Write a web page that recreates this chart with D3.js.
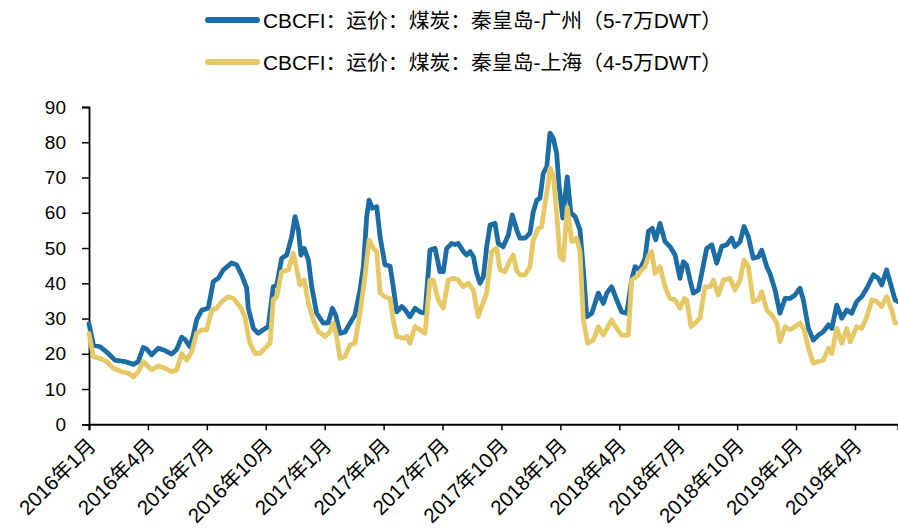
<!DOCTYPE html>
<html>
<head>
<meta charset="utf-8">
<script src="https://cdn.jsdelivr.net/npm/d3@7"></script>
<style>
  body { margin: 0; background: #fff; }
  svg { display: block; }
  text { font-family: "Liberation Sans", Arial, "Noto Sans CJK SC", sans-serif; fill: #000; }
</style>
</head>
<body>
<svg id="chart" width="898" height="532"></svg>
<script>
const seriesNames = [
  "CBCFI：运价：煤炭：秦皇岛-广州（5-7万DWT）",
  "CBCFI：运价：煤炭：秦皇岛-上海（4-5万DWT）"
];
const seriesColors = ["#1c6ca5", "#e6c966"];

// x = months since Jan 2016
const tickMonths = [0, 3, 6, 9, 12, 15, 18, 21, 24, 27, 30, 33, 36, 39];
const tickLabels = ["2016年1月", "2016年4月", "2016年7月", "2016年10月",
  "2017年1月", "2017年4月", "2017年7月", "2017年10月",
  "2018年1月", "2018年4月", "2018年7月", "2018年10月",
  "2019年1月", "2019年4月"];
const yTicks = [0, 10, 20, 30, 40, 50, 60, 70, 80, 90];

// 秦皇岛-广州
const gzMonths = [0,0.22,0.56,0.98,1.32,1.83,2.26,2.51,2.76,2.94,
  3.19,3.53,3.87,4.21,4.47,4.72,4.89,5.14,5.31,5.48,
  5.74,6.07,6.33,6.58,6.84,7.27,7.52,7.77,8.03,8.11,
  8.37,8.62,8.87,9.13,9.38,9.56,9.81,10.07,10.32,10.49,
  10.66,10.79,10.96,11.17,11.34,11.59,11.93,12.18,12.39,12.56,
  12.78,13.03,13.29,13.54,13.80,13.97,14.14,14.26,14.42,14.65,
  14.82,15.07,15.33,15.49,15.67,15.92,16.09,16.34,16.60,16.85,
  17.11,17.36,17.62,17.87,18.04,18.21,18.47,18.64,18.80,19.06,
  19.23,19.40,19.57,19.74,19.91,20.08,20.25,20.42,20.67,20.84,
  21.09,21.35,21.55,21.78,21.94,22.20,22.45,22.62,22.80,22.96,
  23.13,23.31,23.47,23.64,23.81,23.93,24.12,24.35,24.53,24.75,
  25.00,25.17,25.34,25.60,25.93,26.19,26.36,26.61,26.87,27.12,
  27.38,27.63,27.80,28.05,28.31,28.48,28.68,28.85,29.07,29.33,
  29.58,29.84,30.09,30.26,30.43,30.60,30.77,31.03,31.28,31.45,
  31.71,31.96,32.21,32.47,32.72,32.89,33.15,33.35,33.57,33.82,
  34.08,34.25,34.51,34.67,34.93,35.18,35.44,35.69,35.95,36.20,
  36.37,36.63,36.88,37.14,37.39,37.65,37.82,38.07,38.33,38.58,
  38.83,39.09,39.34,39.60,39.94,40.19,40.36,40.61,40.78,41.04,
  41.19];
const gzValues = [28.5,22.5,22,20.1,18.2,17.8,17,17.8,21.8,21.3,
  19.7,21.6,20.9,19.9,21.3,24.7,24,22,25.3,29.6,
  32.4,32.9,40.5,41.4,43.8,45.8,45.2,42.4,38.6,33,
  27.2,25.8,26.8,27.7,39,39.5,47.1,48,53.2,58.9,
  55.1,48,49.9,46.6,39,31.5,28.7,28.8,32.9,31,
  25.8,26.2,28.7,31,38.1,44.7,58.9,63.6,61.3,61.7,
  53.2,45.2,44.9,39,31.9,33.4,32.5,30.5,32.9,31.9,
  31.5,49.4,49.9,43.3,43.3,49.9,51.3,51,51.3,49,
  48,49,47.5,42.8,40,41.9,50.4,56.5,57,51.3,
  50.4,53.7,59.4,55.1,52.8,52.8,54.2,60.3,63.6,64.1,
  71.2,73.1,82.6,81.1,76.9,68,58.5,70.2,60,58.9,
  55.1,43.8,30.5,31.5,37.2,34.3,37.2,39,35.3,31.9,
  31.5,40.9,44.7,43.8,47.1,54.7,55.6,52.3,57,51.8,
  50.4,48,41.4,46.1,45.2,40.9,37.2,38.1,45.2,49.9,
  50.9,45.7,50.4,50.9,52.8,50.4,51.8,56.1,53.2,47.1,
  47.5,49.4,44.7,42.8,38.1,31.5,35.7,35.7,36.7,38.6,
  35.3,27.2,23.9,25.3,26.3,28.2,27.2,33.8,30.1,32.4,
  31.5,34.8,36.2,38.6,42.4,41.4,39.5,43.8,40.5,35.3,
  34.8];

// 秦皇岛-上海
const shMonths = [0,0.22,0.56,0.90,1.24,1.66,2.00,2.26,2.51,2.76,
  2.94,3.19,3.53,3.87,4.21,4.47,4.72,4.97,5.23,5.48,
  5.74,5.99,6.25,6.50,6.76,7.09,7.35,7.69,7.94,8.11,
  8.20,8.45,8.71,8.96,9.22,9.38,9.56,9.81,10.15,10.40,
  10.57,10.74,10.96,11.17,11.42,11.68,12.02,12.27,12.44,12.61,
  12.78,13.03,13.29,13.54,13.80,14.05,14.26,14.48,14.65,14.82,
  15.07,15.33,15.49,15.67,16.00,16.18,16.34,16.60,16.85,17.11,
  17.36,17.53,17.78,18.04,18.29,18.55,18.80,19.06,19.31,19.57,
  19.82,19.99,20.25,20.50,20.76,20.93,21.18,21.44,21.60,21.78,
  21.94,22.20,22.45,22.62,22.88,23.05,23.22,23.36,23.47,23.64,
  23.81,23.98,24.15,24.35,24.58,24.83,25.00,25.17,25.39,25.68,
  25.93,26.19,26.61,26.87,27.12,27.46,27.63,27.89,28.14,28.31,
  28.51,28.65,28.82,29.07,29.33,29.58,29.84,30.09,30.31,30.43,
  30.65,30.94,31.11,31.36,31.62,31.79,32.04,32.30,32.64,32.89,
  33.15,33.35,33.57,33.82,34.08,34.25,34.51,34.76,35.02,35.18,
  35.44,35.69,35.95,36.20,36.41,36.63,36.88,37.14,37.39,37.65,
  37.82,38.07,38.33,38.58,38.76,39.09,39.34,39.60,39.86,40.11,
  40.36,40.61,40.87,41.04,41.19];
const shValues = [25.8,19.2,18.7,17.8,15.9,14.9,14.5,13.5,14.9,17.8,
  16.8,15.4,16.6,15.9,14.9,15.4,20.1,18.2,20.6,25.8,
  26.8,26.8,32.4,32.9,34.8,36.2,35.7,33.4,30.5,25,
  23,20.1,20.1,21.6,23,35.3,36.2,43.3,43.8,48.5,
  44.3,39.5,40.9,34.3,29.6,26.3,24.9,26.3,28.7,24.9,
  18.7,19.2,22.5,23,31.5,41.9,52.3,49.9,49,37.2,
  36.2,35.7,29.6,24.9,24.4,24.9,23,27.7,26.8,25.8,
  40.9,40.9,35.3,32.9,40.9,41.4,40.9,39,40,38.1,
  30.5,33.4,37.2,49,49.9,43.8,43.3,46.6,48,43.5,
  42.4,42.4,44.7,52.3,55.6,56.1,62.7,67.4,72.6,70.7,
  59.9,47.5,46.6,61.5,51.8,52.8,49,29.6,23,23.9,
  27.7,25.3,29.6,27.2,25.3,25.3,40.9,41.9,43.8,44.7,
  48,49,42.8,44.7,39,35.7,35.3,32.9,35.7,35.3,
  27.7,29.1,30.1,39,39,40.9,36.7,40.9,41.4,38.1,
  40.9,46.6,44.7,34.8,35.3,37.6,32.4,31,28.7,23.4,
  27.7,26.8,27.7,28.7,26.8,21.6,17.3,17.8,18.2,21.6,
  20.1,27.2,23,27.2,23.4,27.7,27.2,30.5,35.3,34.8,
  33.4,36.2,32.4,28.7,28.7];

const svg = d3.select("#chart");

const x = d3.scaleLinear()
  .domain([0, d3.max(gzMonths)])
  .range([89, 898]);
const y = d3.scaleLinear()
  .domain([0, 90])
  .range([424.3, 107]);

// y axis
const yAxis = svg.append("g")
  .attr("transform", "translate(89,0)")
  .call(d3.axisLeft(y).tickValues(yTicks).tickSize(7).tickPadding(16));
yAxis.select(".domain").attr("stroke", "#000").attr("stroke-width", 1.8);
yAxis.selectAll(".tick line").attr("stroke", "#000").attr("stroke-width", 1.5);
yAxis.selectAll(".tick text")
  .style("font-size", "19px");

// x axis
const xAxis = svg.append("g")
  .attr("transform", "translate(0,424.3)")
  .call(d3.axisBottom(x).tickValues(tickMonths).tickSize(6).tickFormat(""));
xAxis.select(".domain").attr("stroke", "#000").attr("stroke-width", 2);
xAxis.selectAll(".tick line").attr("stroke", "#000").attr("stroke-width", 1.5);

svg.append("g").selectAll("text")
  .data(tickMonths)
  .enter()
  .append("text")
  .attr("transform", d => `translate(${x(d) + 8},447) rotate(-45)`)
  .attr("text-anchor", "end")
  .style("font-size", "20.5px")
  .text((d, i) => tickLabels[i]);

// lines
const series = [
  { months: gzMonths, values: gzValues },
  { months: shMonths, values: shValues }
];
const line = d3.line()
  .x(d => x(d[0]))
  .y(d => y(d[1]));

series.forEach((s, i) => {
  svg.append("path")
    .datum(d3.zip(s.months, s.values))
    .attr("fill", "none")
    .attr("stroke", seriesColors[i])
    .attr("stroke-width", 4.8)
    .attr("stroke-linejoin", "round")
    .attr("stroke-linecap", "round")
    .attr("d", line);
});

// legend
const legend = svg.append("g");
seriesNames.forEach((name, i) => {
  const ly = 20 + i * 42;
  legend.append("line")
    .attr("x1", 208).attr("x2", 257)
    .attr("y1", ly).attr("y2", ly)
    .attr("stroke", seriesColors[i])
    .attr("stroke-width", 6)
    .attr("stroke-linecap", "round");
  legend.append("text")
    .attr("x", 263)
    .attr("y", ly + 7.5)
    .attr("textLength", 459)
    .attr("lengthAdjust", "spacingAndGlyphs")
    .style("font-size", "20.5px")
    .text(name);
});
</script>
</body>
</html>
